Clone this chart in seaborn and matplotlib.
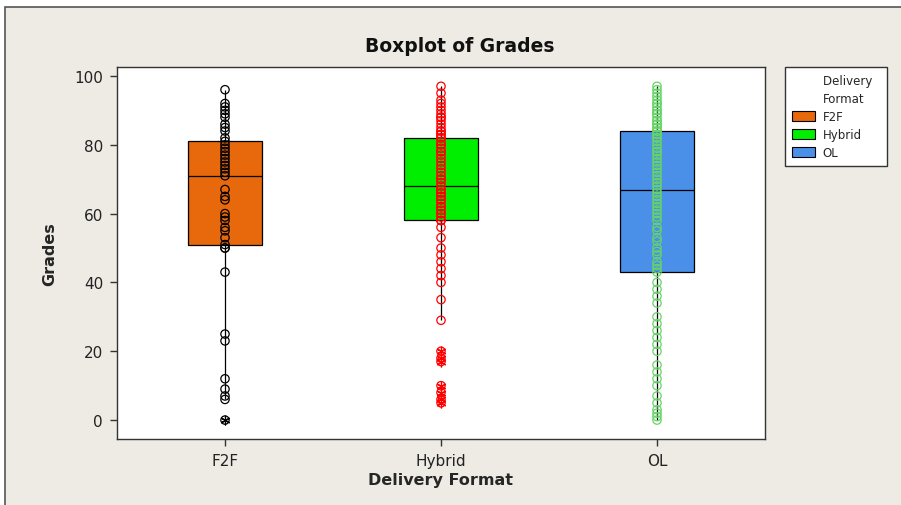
import matplotlib
matplotlib.use("Agg")
import matplotlib.pyplot as plt
import numpy as np
import pandas as pd
import seaborn as sns
from matplotlib.patches import Rectangle, Patch

# Delivery formats and the grades recorded for each
formats = ["F2F", "Hybrid", "OL"]

grades_f2f = [0, 6, 7, 9, 12, 23, 25, 43, 50, 50,
              51, 53, 55, 56, 58, 59, 60, 64, 65, 67,
              71, 72, 73, 74, 75, 76, 77, 78, 79, 80,
              81, 82, 84, 85, 86, 88, 89, 90, 91, 92, 96]

grades_hybrid = [5, 6, 8, 10, 17, 18, 20, 29, 35, 40, 42, 44, 46, 48, 50, 53, 56,
                 58,
                 58, 59, 60, 60, 61, 62, 62, 63, 64, 64, 65, 65, 66, 66, 67, 67,
                 68,
                 69, 70, 70, 71, 72, 73, 74, 75, 76, 77, 78, 78, 79, 80, 80, 81,
                 82,
                 82, 83, 83, 84, 84, 85, 86, 87, 88, 88, 89, 90, 91, 92, 93, 95, 97]

grades_ol = [0, 1, 2, 3, 5, 7, 10, 12, 14, 16, 20, 22, 24, 26, 28, 30, 34, 36, 38, 40,
             43,
             44, 45, 46, 48, 49, 50, 52, 53, 55, 56, 58, 59, 60, 61, 62, 63, 64, 65, 66,
             67,
             68, 69, 70, 71, 72, 73, 74, 75, 76, 77, 78, 78, 79, 80, 81, 82, 82, 83, 83,
             84,
             84, 85, 85, 86, 86, 87, 87, 88, 89, 89, 90, 90, 91, 92, 92, 93, 94, 95, 96, 97]

box_colors = ["#E8680C", "#00EE00", "#4A90E8"]
point_colors = ["#000000", "#FF0000", "#66D466"]

df = pd.DataFrame({
    "Delivery Format": (["F2F"] * len(grades_f2f) + ["Hybrid"] * len(grades_hybrid)
                        + ["OL"] * len(grades_ol)),
    "Grades": grades_f2f + grades_hybrid + grades_ol,
})

sns.set_style("ticks")
plt.rcParams["font.family"] = ["DejaVu Sans"]

W, H = 901, 506
fig = plt.figure(figsize=(W / 100, H / 100), dpi=100, facecolor="white")

# graph region background with its frame
fig.add_artist(Rectangle((5 / W, -0.01), 1.0, 1 - 8 / H + 0.01,
                         transform=fig.transFigure, facecolor="#EDEBE4",
                         edgecolor="#555555", linewidth=1.2, zorder=-10))

ax = fig.add_axes([117 / W, 1 - 440 / H, (765 - 117) / W, (440 - 68) / H])
ax.set_facecolor("white")

# one box per delivery format, each with its own fill and outlier colour
for fmt, bc, pc in zip(formats, box_colors, point_colors):
    sub = df[df["Delivery Format"] == fmt]
    n_lines = len(ax.lines)
    sns.boxplot(data=sub, x="Delivery Format", y="Grades", order=formats,
                color=bc, saturation=1, width=0.34, linewidth=0.9,
                linecolor="black", showcaps=False, whis=1.5,
                flierprops=dict(marker=(6, 2, 0), markersize=7), ax=ax)
    for line in ax.lines[n_lines:]:
        if line.get_marker() not in (None, "None", "", " "):
            line.set_markeredgecolor(pc)
            line.set_markerfacecolor("none")
            line.set_markeredgewidth(0.9)

# individual grades as open circles
n_coll = len(ax.collections)
sns.stripplot(data=df, x="Delivery Format", y="Grades", order=formats,
              hue="Delivery Format", hue_order=formats, palette=point_colors,
              jitter=False, size=6, linewidth=0.9, legend=False, ax=ax, zorder=3)
for coll in ax.collections[n_coll:]:
    fc = coll.get_facecolor()
    coll.set_edgecolor(fc)
    coll.set_facecolor("none")

ax.set_xlim(-0.5, 2.5)
ax.set_ylim(-5.5, 102.6)
ax.set_yticks([0, 20, 40, 60, 80, 100])
ax.tick_params(axis="both", direction="out", length=5, width=1,
               color="#333333", labelsize=11, labelcolor="#222222", pad=5)
for sp in ax.spines.values():
    sp.set_visible(True)
    sp.set_color("#333333")
    sp.set_linewidth(1.0)

ax.set_xlabel("Delivery Format", fontsize=11.5, fontweight="bold", labelpad=3)
ax.set_ylabel("Grades", fontsize=11.5, fontweight="bold", labelpad=12)

fig.text(460 / W, 1 - 47 / H, "Boxplot of Grades", fontsize=13.5,
         fontweight="bold", ha="center", va="center", color="#111111")

# legend: heading rows use blank handles so the text lines up with the labels
blank = Patch(facecolor="none", edgecolor="none")
handles = [blank, blank] + [Patch(facecolor=c, edgecolor="black", linewidth=0.8)
                            for c in box_colors]
labels = ["Delivery  ", "Format"] + formats
fig.legend(handles, labels, loc="upper left",
           bbox_to_anchor=(785 / W, 1 - 68 / H), frameon=True, fancybox=False,
           edgecolor="#333333", facecolor="white", framealpha=1, fontsize=8.5,
           borderpad=0.6, handlelength=1.9, handleheight=0.9, labelspacing=0.42,
           handletextpad=0.7, borderaxespad=0)

fig.savefig("out.png", dpi=100, facecolor=fig.get_facecolor())
